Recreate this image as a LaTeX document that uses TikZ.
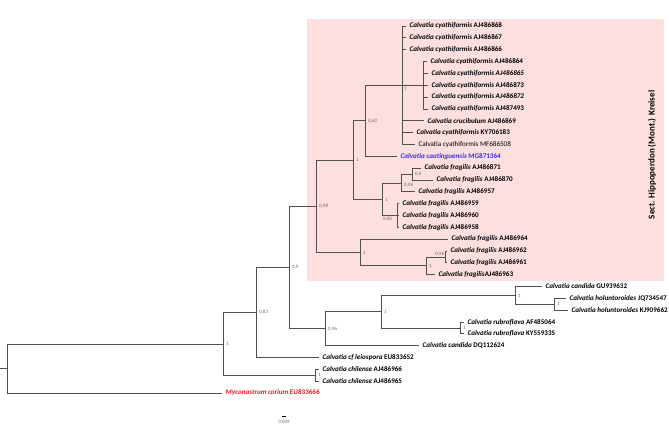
\documentclass[tikz,border=0pt]{standalone}
\usepackage{fontspec}
\setmainfont{Carlito}
\usetikzlibrary{calc}
\usepackage[svgnames]{xcolor}
\definecolor{sectpink}{RGB}{253,223,224}
\definecolor{branchgray}{RGB}{82,78,78}
\definecolor{newblue}{RGB}{58,48,214}
\definecolor{outred}{RGB}{232,28,36}
\tikzset{
  branch/.style={draw=branchgray, line width=0.8pt},
  taxon/.style={anchor=west, inner xsep=3.5pt, inner ysep=0pt, font=\fontsize{7.1}{8}\selectfont\bfseries},
  taxonlight/.style={taxon, font=\fontsize{7.1}{8}\selectfont},
  support/.style={anchor=west, inner sep=0pt, text=DimGray, font=\fontsize{5}{6}\selectfont},
}

\begin{document}
\begin{tikzpicture}[x=1pt,y=-1pt]
  \useasboundingbox (0,0) rectangle (669,428);

  % 背景框
  \fill[sectpink] (307,19) rectangle (664,281);

  % 叶节点
  \coordinate (t868) at (406,26.0);
  \coordinate (t867) at (406,37.8);
  \coordinate (t866) at (406,49.7);
  \coordinate (t864) at (427,61.5);
  \coordinate (t865) at (428,73.4);
  \coordinate (t873) at (428,85.2);
  \coordinate (t872) at (428,97.0);
  \coordinate (t493) at (428,108.9);
  \coordinate (t869) at (424,120.7);
  \coordinate (t183) at (413,132.6);
  \coordinate (t508) at (415,144.4);
  \coordinate (t364) at (397,156.2);
  \coordinate (t871) at (421,168.1);
  \coordinate (t870) at (433,179.9);
  \coordinate (t957) at (415,191.8);
  \coordinate (t959) at (399,203.6);
  \coordinate (t960) at (399,215.4);
  \coordinate (t958) at (399,227.3);
  \coordinate (t964) at (448,239.1);
  \coordinate (t962) at (447,251.0);
  \coordinate (t961) at (447,262.8);
  \coordinate (t963) at (435,274.6);
  \coordinate (t632) at (542,286.5);
  \coordinate (t547) at (566,298.3);
  \coordinate (t662) at (568,310.2);
  \coordinate (t064) at (464,322.0);
  \coordinate (t335) at (464,333.8);
  \coordinate (t624) at (419,345.7);
  \coordinate (t652) at (319,357.5);
  \coordinate (t966) at (319,369.4);
  \coordinate (t965) at (319,381.2);
  \coordinate (t666) at (222,393.0);

  % 内部节点
  \coordinate (nH) at (423,85.2);
  \coordinate (nG) at (402,85.2);
  \coordinate (nF) at (365,120.7);
  \coordinate (nJa) at (412,174.0);
  \coordinate (nJ) at (401,182.9);
  \coordinate (nK) at (397,215.4);
  \coordinate (nI) at (382,199.2);
  \coordinate (nE) at (353,160.0);
  \coordinate (nN) at (445,256.9);
  \coordinate (nM) at (426,265.8);
  \coordinate (nL) at (360,252.4);
  \coordinate (nD) at (316,206.2);
  \coordinate (nR) at (554,304.2);
  \coordinate (nP) at (515,295.4);
  \coordinate (nQ) at (460,327.9);
  \coordinate (nS) at (381,311.7);
  \coordinate (nO) at (325,328.7);
  \coordinate (nC) at (289,267.5);
  \coordinate (nB) at (256,312.5);
  \coordinate (nT) at (315,375.3);
  \coordinate (nA) at (223,344.0);
  \coordinate (root) at (7,368.5);
  \coordinate (stem) at (0,368.5);

  % 分支
  \draw[branch] (stem) -- (root);
  \draw[branch] (root) |- (nA);
  \draw[branch] (root) |- (t666);
  \draw[branch] (nA) |- (nB);
  \draw[branch] (nA) |- (nT);
  \draw[branch] (nT) |- (t966);
  \draw[branch] (nT) |- (t965);
  \draw[branch] (nB) |- (nC);
  \draw[branch] (nB) |- (t652);
  \draw[branch] (nC) |- (nD);
  \draw[branch] (nC) |- (nO);
  \draw[branch] (nO) |- (nS);
  \draw[branch] (nO) |- (t624);
  \draw[branch] (nS) |- (nP);
  \draw[branch] (nS) |- (nQ);
  \draw[branch] (nP) |- (t632);
  \draw[branch] (nP) |- (nR);
  \draw[branch] (nR) |- (t547);
  \draw[branch] (nR) |- (t662);
  \draw[branch] (nQ) |- (t064);
  \draw[branch] (nQ) |- (t335);
  \draw[branch] (nD) |- (nE);
  \draw[branch] (nD) |- (nL);
  \draw[branch] (nL) |- (t964);
  \draw[branch] (nL) |- (nM);
  \draw[branch] (nM) |- (nN);
  \draw[branch] (nM) |- (t963);
  \draw[branch] (nN) |- (t962);
  \draw[branch] (nN) |- (t961);
  \draw[branch] (nE) |- (nF);
  \draw[branch] (nE) |- (nI);
  \draw[branch] (nI) |- (nJ);
  \draw[branch] (nI) |- (nK);
  \draw[branch] (nJ) |- (nJa);
  \draw[branch] (nJ) |- (t957);
  \draw[branch] (nJa) |- (t871);
  \draw[branch] (nJa) |- (t870);
  \draw[branch] (nK) |- (t959);
  \draw[branch] (nK) |- (t960);
  \draw[branch] (nK) |- (t958);
  \draw[branch] (nF) |- (nG);
  \draw[branch] (nF) |- (t364);
  \draw[branch] (nG) |- (t868);
  \draw[branch] (nG) |- (t867);
  \draw[branch] (nG) |- (t866);
  \draw[branch] (nG) |- (nH);
  \draw[branch] (nG) |- (t869);
  \draw[branch] (nG) |- (t183);
  \draw[branch] (nG) |- (t508);
  \draw[branch] (nH) |- (t864);
  \draw[branch] (nH) |- (t865);
  \draw[branch] (nH) |- (t873);
  \draw[branch] (nH) |- (t872);
  \draw[branch] (nH) |- (t493);

  % 物种标签
  \node[taxon] (l868) at (t868) {\textit{Calvatia cyathiformis} AJ486868};
  \node[taxon] (l867) at (t867) {\textit{Calvatia cyathiformis} AJ486867};
  \node[taxon] (l866) at (t866) {\textit{Calvatia cyathiformis} AJ486866};
  \node[taxon] (l864) at (t864) {\textit{Calvatia cyathiformis} AJ486864};
  \node[taxon] (l865) at (t865) {\textit{Calvatia cyathiformis AJ486865}};
  \node[taxon] (l873) at (t873) {\textit{Calvatia cyathiformis} AJ486873};
  \node[taxon] (l872) at (t872) {\textit{Calvatia cyathiformis AJ486872}};
  \node[taxon] (l493) at (t493) {\textit{Calvatia cyathiformis} AJ487493};
  \node[taxon] (l869) at (t869) {\textit{Calvatia crucibulum} AJ486869};
  \node[taxon] (l183) at (t183) {\textit{Calvatia cyathiformis} KY706183};
  \node[taxonlight] (l508) at (t508) {Calvatia cyathiformis MF686508};
  \node[taxon, text=newblue] (l364) at (t364) {\textit{Calvatia caatinguensis} MG871364};
  \node[taxon] (l871) at (t871) {\textit{Calvatia fragilis} AJ486871};
  \node[taxon] (l870) at (t870) {\textit{Calvatia fragilis} AJ486870};
  \node[taxon] (l957) at (t957) {\textit{Calvatia fragilis} AJ486957};
  \node[taxon] (l959) at (t959) {\textit{Calvatia fragilis} AJ486959};
  \node[taxon] (l960) at (t960) {\textit{Calvatia fragilis} AJ486960};
  \node[taxon] (l958) at (t958) {\textit{Calvatia fragilis} AJ486958};
  \node[taxon] (l964) at (t964) {\textit{Calvatia fragilis} AJ486964};
  \node[taxon] (l962) at (t962) {\textit{Calvatia fragilis} AJ486962};
  \node[taxon] (l961) at (t961) {\textit{Calvatia fragilis} AJ486961};
  \node[taxon] (l963) at (t963) {\textit{Calvatia fragilis}AJ486963};
  \node[taxon] (l632) at (t632) {\textit{Calvatia candida} GU939632};
  \node[taxon] (l547) at (t547) {\textit{Calvatia holuntoroides} JQ734547};
  \node[taxon] (l662) at (t662) {\textit{Calvatia holuntoroides} KJ909662};
  \node[taxon] (l064) at (t064) {\textit{Calvatia rubroflava} AF485064};
  \node[taxon] (l335) at (t335) {\textit{Calvatia rubroflava} KY559335};
  \node[taxon] (l624) at (t624) {\textit{Calvatia candida} DQ112624};
  \node[taxon] (l652) at (t652) {\textit{Calvatia cf leiospora} EU833652};
  \node[taxon] (l966) at (t966) {\textit{Calvatia chilense} AJ486966};
  \node[taxon] (l965) at (t965) {\textit{Calvatia chilense} AJ486965};
  \node[taxon, text=outred] (l666) at (t666) {\textit{Myconastrum corium} EU833666};

  % 支持率
  \node[support] (sA) at ([xshift=3pt]nA) {1};
  \node[support] (sT) at ([xshift=3pt]nT) {1};
  \node[support] (sB) at ([xshift=3pt]nB) {0,83};
  \node[support] (sC) at ([xshift=3pt]nC) {0,9};
  \node[support] (sO) at ([xshift=3pt]nO) {0,96};
  \node[support] (sS) at ([xshift=3pt]nS) {1};
  \node[support] (sP) at ([xshift=3pt]nP) {1};
  \node[support] (sR) at ([xshift=3pt]nR) {1};
  \node[support] (sQ) at ([xshift=3pt]nQ) {1};
  \node[support] (sD) at ([xshift=3pt]nD) {0,98};
  \node[support] (sL) at ([xshift=3pt]nL) {1};
  \node[support] (sM) at ([xshift=3pt]nM) {1};
  \node[support, anchor=south east] (sN) at ([xshift=-0.5pt,yshift=1pt]nN) {0,96};
  \node[support] (sE) at ([xshift=3pt]nE) {1};
  \node[support] (sI) at ([xshift=3pt,yshift=-1pt]nI) {1};
  \node[support] (sJ) at ([xshift=3pt,yshift=-2pt]nJ) {0,98};
  \node[support] (sJa) at ([xshift=3pt]nJa) {0,9};
  \node[support, anchor=north east] (sK) at ([xshift=-5pt,yshift=-1pt]nK) {0,88};
  \node[support] (sF) at ([xshift=3pt]nF) {0,62};
  \node[support, anchor=north west] (sG) at ([xshift=2pt,yshift=-2pt]nG) {1};

  % 分组标签
  \node[rotate=90, font=\fontsize{9}{10}\selectfont\bfseries] (sect) at (652,155) {Sect. Hippoperdon (Mont.) Kreisel};

  % 比例尺
  \coordinate (sbl) at (282,416);
  \coordinate (sbr) at (286,416);
  \draw[line width=1pt] (sbl) -- (sbr);
  \node[support, anchor=north] (sbt) at ($(sbl)!0.5!(sbr)+(0,4)$) {0.009};
\end{tikzpicture}
\end{document}
